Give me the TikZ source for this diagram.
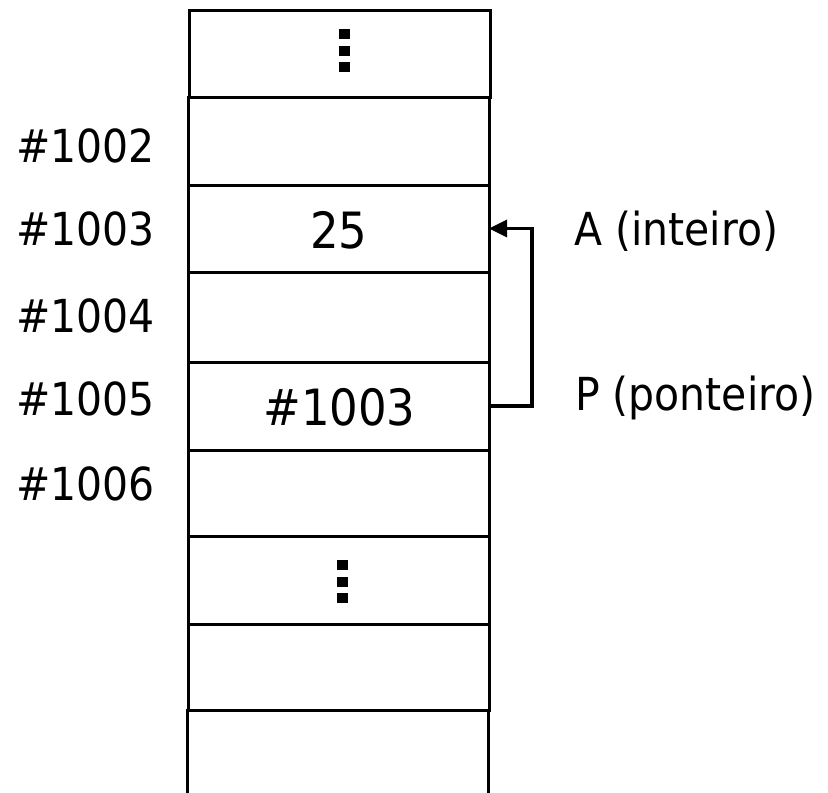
\documentclass[tikz,border=0pt]{standalone}
\usepackage{fontspec}
\setmainfont{DejaVu Sans}[FakeStretch=0.9]
\usetikzlibrary{arrows.meta}
\begin{document}
\begin{tikzpicture}[x=1pt,y=-1pt,
  cell/.style={draw, line width=3pt, minimum width=301pt, inner sep=0pt, outer sep=0pt, anchor=north west},
  opencell/.style={minimum width=301pt, inner sep=0pt, outer sep=0pt, anchor=north west},
  lbl/.style={inner sep=0pt, font=\fontsize{45.5}{54}\selectfont},
  val/.style={inner sep=0pt, font=\fontsize{50}{60}\selectfont},
  sq/.style={fill=black, inner sep=0pt, minimum width=11pt, minimum height=10pt},
  ptr/.style={line width=3.2pt, line join=miter, -{Triangle[length=18pt,width=17pt]}}
]
\useasboundingbox (0,0) rectangle (828,793);
% memory cells
\node[cell, minimum height=87pt] (r1) at (189,10) {};
\node[cell, minimum height=88pt] (r2) at (188,97) {};
\node[cell, minimum height=87pt] (r3) at (188,185) {};
\node[cell, minimum height=90pt] (r4) at (188,272) {};
\node[cell, minimum height=88pt] (r5) at (188,362) {};
\node[cell, minimum height=86pt] (r6) at (188,450) {};
\node[cell, minimum height=88pt] (r7) at (188,536) {};
\node[cell, minimum height=86pt] (r8) at (188,624) {};
\node[opencell, minimum height=85pt] (r9) at (187,710) {};
\draw[line width=3pt] (r9.south west) -- (r9.north west) -- (r9.north east) -- (r9.south east);
% vertical ellipses
\node[sq] (d1) at (344,33.5) {};
\node[sq] (d2) at (344,50.5) {};
\node[sq] (d3) at (344,67) {};
\node[sq] (e1) at (342,565) {};
\node[sq] (e2) at (342,582) {};
\node[sq] (e3) at (342,598) {};
% cell contents
\node[val, anchor=base] (v25) at (339,248) {25};
\node[val, anchor=base] (v1003) at (339.5,425) {\#1003};
% addresses
\node[lbl, anchor=base east] (a2) at (155,162) {\#1002};
\node[lbl, anchor=base east] (a3) at (155,245) {\#1003};
\node[lbl, anchor=base east] (a4) at (155,332) {\#1004};
\node[lbl, anchor=base east] (a5) at (155,415) {\#1005};
\node[lbl, anchor=base east] (a6) at (155,500) {\#1006};
% variable names
\node[lbl, anchor=base west] (nA) at (574,245) {A (inteiro)};
\node[lbl, anchor=base west] (nP) at (575,410) {P (ponteiro)};
% pointer arrow
\coordinate (bend) at (532,300);
\draw[ptr] (r5.east) -- (r5.east -| bend) -- (r3.east -| bend) -- (r3.east);
\end{tikzpicture}
\end{document}
